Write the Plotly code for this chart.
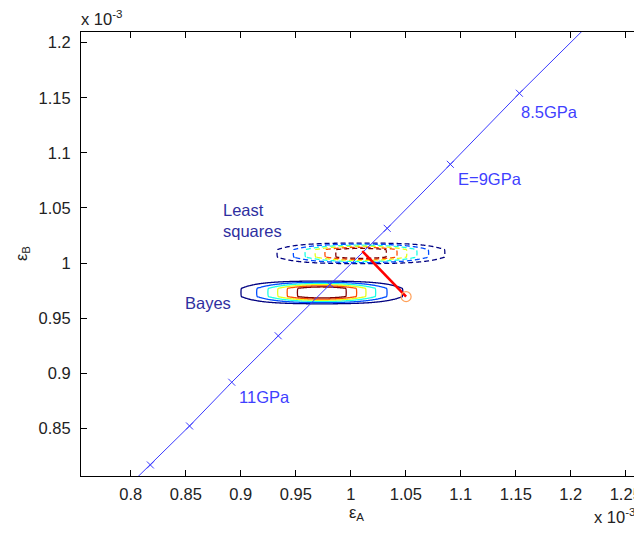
import numpy as np
import plotly.graph_objects as go

# ---- data ----
E_GPa = [8.0, 8.5, 9.0, 9.5, 10.0, 10.5, 11.0, 11.5, 12.0, 12.5]
epsA_line = [1.226, 1.1533, 1.0905, 1.0331, 0.9810, 0.9340, 0.8918, 0.8534, 0.8178, 0.7850]
epsB_line = [1.226, 1.1541, 1.0896, 1.0315, 0.9805, 0.9340, 0.8918, 0.8521, 0.8167, 0.7850]

label_text = ["8.5GPa", "E=9GPa", "11GPa"]
label_x = [1.1530, 1.0955, 0.8962]
label_y = [1.1374, 1.0760, 0.8787]

method_text = ["Least<br>squares", "Bayes"]
method_x = [0.8820, 0.8473]
method_y = [1.0388, 0.9635]

bayes_mean = [0.9737, 0.9733]
bayes_sigma_x = 0.0369
bayes_row_gap = 0.0075
ls_mean = [1.0093, 1.0088]
ls_sigma_x = 0.0383
ls_row_gap = 0.0068
contour_levels = [0.14, 0.28, 0.42, 0.56, 0.70, 0.84]

red_x = [1.0104, 1.0503]
red_y = [1.0109, 0.9695]

x_ticks = [0.8, 0.85, 0.9, 0.95, 1.0, 1.05, 1.1, 1.15, 1.2, 1.25]
x_ticktext = ["0.8", "0.85", "0.9", "0.95", "1", "1.05", "1.1", "1.15", "1.2", "1.25"]
y_ticks = [0.85, 0.9, 0.95, 1.0, 1.05, 1.1, 1.15, 1.2]
y_ticktext = ["0.85", "0.9", "0.95", "1", "1.05", "1.1", "1.15", "1.2"]
x_range = [0.75471, 1.26295]
y_range = [0.8067, 1.2097]

FONT = "Arial, Liberation Sans, sans-serif"
FS = 16.5
JET = [[0.0, "#000080"], [0.125, "#0000ff"], [0.375, "#00ffff"],
       [0.625, "#ffff00"], [0.875, "#ff0000"], [1.0, "#800000"]]


def density_grid(mean, sx, gap):
    gx = np.arange(0.74, 1.28, 0.001)
    gy = mean[1] + gap * (np.arange(-4, 4) + 0.5)
    sy = gap / 2.0
    zx = np.exp(-(gx - mean[0]) ** 2 / (2 * sx ** 2))
    zy = np.exp(-(gy - mean[1]) ** 2 / (2 * sy ** 2)) / np.exp(-(gap / 2) ** 2 / (2 * sy ** 2))
    return gx, gy, np.outer(zy, zx)


fig = go.Figure()

lv = dict(start=contour_levels[0], end=contour_levels[-1],
          size=contour_levels[1] - contour_levels[0], coloring="lines")

gx, gy, z = density_grid(bayes_mean, bayes_sigma_x, bayes_row_gap)
fig.add_trace(go.Contour(x=gx, y=gy, z=z, autocontour=False, contours=lv,
                         colorscale=JET, showscale=False, line=dict(width=1.3),
                         hoverinfo="skip"))

gx, gy, z = density_grid(ls_mean, ls_sigma_x, ls_row_gap)
fig.add_trace(go.Contour(x=gx, y=gy, z=z, autocontour=False, contours=lv,
                         colorscale=JET, showscale=False,
                         line=dict(width=1.3, dash="5px,3px"), hoverinfo="skip"))

fig.add_trace(go.Scatter(x=epsA_line, y=epsB_line, mode="lines+markers",
                         line=dict(color="#3a3aff", width=1),
                         marker=dict(symbol="x-thin", size=7,
                                     line=dict(color="#3a3aff", width=1)),
                         showlegend=False, hoverinfo="skip"))

fig.add_trace(go.Scatter(x=red_x, y=red_y, mode="lines",
                         line=dict(color="#ff0000", width=2.6),
                         showlegend=False, hoverinfo="skip"))
fig.add_trace(go.Scatter(x=red_x[1:], y=red_y[1:], mode="markers",
                         marker=dict(symbol="circle-open", size=10,
                                     line=dict(color="#ff0000", width=1.2)),
                         showlegend=False, hoverinfo="skip"))

# dummy trace for right-side tick axis
fig.add_trace(go.Scatter(x=[None], y=[None], yaxis="y2", showlegend=False,
                         hoverinfo="skip"))

annotations = []
for t, x, y in zip(label_text, label_x, label_y):
    annotations.append(dict(x=x, y=y, xref="x", yref="y", text=t, showarrow=False,
                            xanchor="left", yanchor="middle",
                            font=dict(family=FONT, size=FS, color="#3f3fff")))
for t, x, y in zip(method_text, method_x, method_y):
    annotations.append(dict(x=x, y=y, xref="x", yref="y", text=t, showarrow=False,
                            xanchor="left", yanchor="middle", align="left",
                            font=dict(family=FONT, size=FS, color="#2f2f9f")))
annotations += [
    dict(x=0.0, y=1.0, xref="paper", yref="paper", text="x 10<sup>-3</sup>",
         showarrow=False, xanchor="left", yanchor="bottom", xshift=-2, yshift=2,
         font=dict(family=FONT, size=FS, color="#222222")),
    dict(x=1.0, y=0.0, xref="paper", yref="paper", text="x 10<sup>-3</sup>",
         showarrow=False, xanchor="right", yanchor="top", yshift=-28, xshift=-3,
         font=dict(family=FONT, size=FS, color="#222222")),
    dict(x=0.5, y=0.0, xref="paper", yref="paper", text="ε<sub>A</sub>",
         showarrow=False, xanchor="center", yanchor="top", yshift=-25, xshift=-4,
         font=dict(family=FONT, size=FS, color="#222222")),
    dict(x=0.0, y=0.5, xref="paper", yref="paper", text="ε<sub>B</sub>",
         showarrow=False, xanchor="center", yanchor="middle", xshift=-59,
         textangle=-90, font=dict(family=FONT, size=FS, color="#222222")),
]

# the page body has an 8px margin: size the figure so the plot area lands
# at the reference position without scrollbars
fig.update_layout(
    width=634, height=520,
    margin=dict(l=73, r=0, t=24, b=52),
    paper_bgcolor="white", plot_bgcolor="white",
    showlegend=False,
    font=dict(family=FONT, size=FS, color="#222222"),
    xaxis=dict(range=x_range, tickvals=x_ticks, ticktext=x_ticktext,
               ticks="inside", ticklen=6, tickcolor="black", showline=True,
               linecolor="black", linewidth=1, mirror="ticks", showgrid=False,
               zeroline=False, ticklabelstandoff=3, ticklabeloverflow="allow",
               tickfont=dict(family=FONT, size=FS, color="#222222")),
    yaxis=dict(range=y_range, tickvals=y_ticks, ticktext=y_ticktext,
               ticks="inside", ticklen=6, tickcolor="black", showline=True,
               linecolor="black", linewidth=1, showgrid=False, zeroline=False,
               ticklabelstandoff=6,
               tickfont=dict(family=FONT, size=FS, color="#222222")),
    yaxis2=dict(range=y_range, overlaying="y", side="right", anchor="x",
                tickvals=y_ticks, ticks="inside", ticklen=6, tickcolor="black",
                showticklabels=False, showline=False, showgrid=False,
                zeroline=False),
    annotations=annotations,
)

fig.write_html("out.html")
